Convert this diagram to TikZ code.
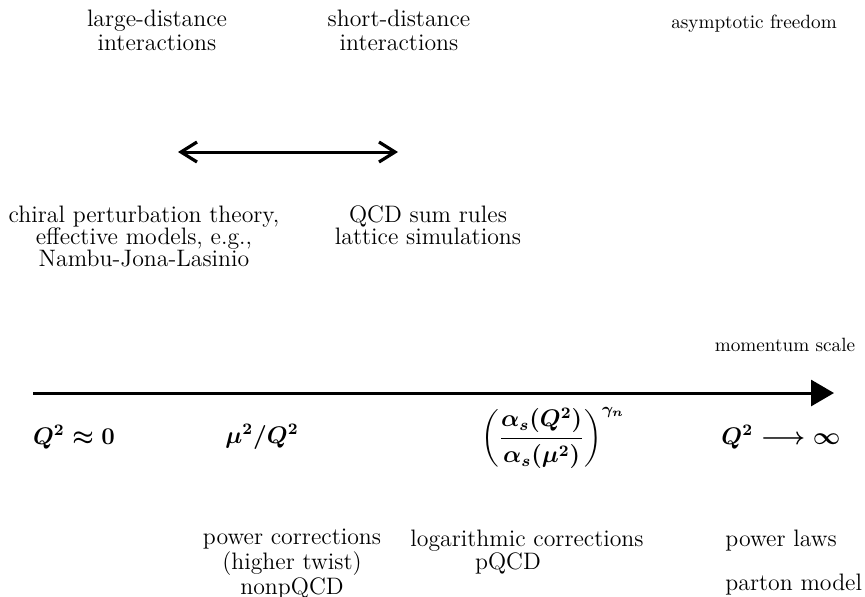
\documentclass[tikz,border=0pt]{standalone}
\usepackage{amsmath}
\usetikzlibrary{arrows.meta}
\begin{document}
\begin{tikzpicture}[x=0.5pt,y=-0.5pt,
  lbl/.style={align=center,inner sep=0pt,font=\fontsize{11.9}{11}\selectfont},
  sml/.style={align=center,inner sep=0pt,font=\fontsize{9.6}{10}\selectfont},
  mth/.style={inner sep=0pt,font=\fontsize{11.9}{12}\selectfont\boldmath},
  axis/.style={line width=1.5pt,-{Triangle[length=11.5pt,width=13pt]}},
  dbl/.style={line width=1.5pt,{Straight Barb[length=8pt,width=10pt,line width=1.6pt]}-{Straight Barb[length=8pt,width=10pt,line width=1.6pt]}}]
\useasboundingbox (0,0) rectangle (865,596);
% top labels
\node[lbl,font=\fontsize{11.9}{12}\selectfont] (ld) at (157,30) {large-distance\\interactions};
\node[lbl,font=\fontsize{11.9}{12}\selectfont] (sd) at (399,30) {short-distance\\interactions};
\node[sml] (af) at (754,24) {asymptotic freedom};
% double arrow
\coordinate (dl) at (178,152);
\coordinate (dr) at (398,152);
\draw[dbl] (dl) -- (dr);
% middle labels
\node[lbl] (ch) at (144,236) {chiral perturbation theory,\\effective models, e.g.,\\Nambu-Jona-Lasinio};
\node[lbl] (qs) at (428,225) {QCD sum rules\\lattice simulations};
% axis
\node[sml] (ms) at (785,345) {momentum scale};
\coordinate (a0) at (33,393);
\coordinate (a1) at (834,393);
\draw[axis] (a0) -- (a1);
% math labels
\node[mth] (q0) at (74,437) {$Q^2\approx 0$};
\node[mth] (mq) at (262,437) {$\mu^2/Q^2$};
\node[mth] (fr) at (553,438) {$\left(\dfrac{\alpha_s(Q^2)}{\alpha_s(\mu^2)}\right)^{\gamma_n}$};
\node[mth] (qi) at (781,437) {$Q^2\longrightarrow\infty$};
% bottom labels
\node[lbl] (pc) at (292,564) {power corrections\\(higher twist)\\nonpQCD};
\node[lbl] (lc) at (527,541) {logarithmic corrections};
\node[lbl] (pq) at (508,563) {pQCD};
\node[lbl,anchor=west] (pl) at (725,541) {power laws};
\node[lbl,anchor=west] (pm) at (725,585) {parton model};
\end{tikzpicture}
\end{document}
